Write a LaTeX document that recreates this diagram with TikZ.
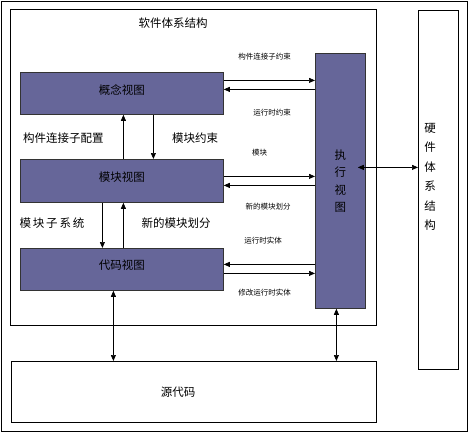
\documentclass[tikz,border=0pt]{standalone}
\usepackage{fontspec}
\newfontfamily\cjk{Noto Sans CJK SC}
\usepackage{tikz}
\usetikzlibrary{arrows.meta}
\definecolor{viewblue}{RGB}{102,102,153}

\begin{document}
\begin{tikzpicture}[
    x=1pt, y=-1pt,
    every node/.style={font=\cjk\fontsize{11.5}{14}\selectfont},
    box/.style={draw=black, line width=0.8pt, anchor=north west, inner sep=0pt},
    view/.style={box, draw=black!80, fill=viewblue, minimum width=203pt, minimum height=42pt},
    tag/.style={font=\cjk\fontsize{7.5}{9}\selectfont},
    line/.style={draw=black, line width=0.7pt, -{Triangle[length=6pt,width=5pt]}},
    dline/.style={line, {Triangle[length=6pt,width=5pt]}-{Triangle[length=6pt,width=5pt]}}
]
\useasboundingbox (0,0) rectangle (468,432);
\draw[line width=0.8pt] (1,1) rectangle (467,431);

% -------- Frames: software, hardware, source code --------
\node[box, minimum width=366pt, minimum height=316pt] (sw) at (10,9) {};
\node (swtitle) at (173,23) {软件体系结构};
\node[box, minimum width=40pt, minimum height=359pt] (hw) at (418,10) {};
\node[align=center, font=\cjk\fontsize{11.5}{19.5}\selectfont] (hwtitle) at (430,177) {硬\\件\\体\\系\\结\\构};
\node[box, minimum width=365pt, minimum height=61pt] (src) at (11,361) {};
\node (srctitle) at (178,392) {源代码};

% -------- Views --------
\node[view]                       (concept) at (20,72)  {\raisebox{8pt}{概念视图}};
\node[view, minimum height=43pt]  (module)  at (20,159) {\raisebox{8pt}{模块视图}};
\node[view]                       (code)    at (20,248) {\raisebox{9pt}{代码视图}};
\node[view, minimum width=50pt, minimum height=255pt, align=center,
      font=\cjk\fontsize{11.5}{17.5}\selectfont] (exec) at (315,53) {执\\行\\视\\图};

% -------- Vertical flow between views --------
\draw[line] ([xshift=1.5pt]module.north) -- ([xshift=1.5pt]concept.south);
\draw[line] ([xshift=31.5pt]concept.south) -- ([xshift=31.5pt]module.north);
\draw[line] ([xshift=-19.5pt]module.south) -- ([xshift=-19.5pt]code.north);
\draw[line] ([xshift=1.5pt]code.north) -- ([xshift=1.5pt]module.south);
\node (cfg)    at (63.5,138) {构件连接子配置};
\node (modcon) at (195,138)  {模块约束};
\node (subsys) at (52,223)   {模\hspace{1.8pt}块\hspace{1.8pt}子\hspace{1.8pt}系\hspace{1.8pt}统};
\node (newdiv) at (176,223)  {新的模块划分};

% -------- To source code and hardware --------
\coordinate (csrc) at ([xshift=-8.5pt]code.south);
\draw[dline] (csrc) -- (csrc |- src.north);
\coordinate (esrc) at ([xshift=-4pt]exec.south);
\draw[dline] (esrc) -- (esrc |- src.north);
\coordinate (ehw) at ([xshift=-8pt,yshift=13.5pt]exec.east);
\draw[dline] (ehw) -- (ehw -| hw.west);

% -------- Views <-> execution view --------
\coordinate (c1) at ([yshift=13pt]concept.east);
\coordinate (c2) at ([yshift=4pt]concept.east);
\coordinate (m1) at ([yshift=4.5pt]module.east);
\coordinate (m2) at ([yshift=-4.5pt]module.east);
\coordinate (k1) at ([yshift=5pt]code.east);
\coordinate (k2) at ([yshift=-4pt]code.east);
\draw[line] (c1) -- (c1 -| exec.west);
\draw[line] (c2 -| exec.west) -- (c2);
\draw[line] (m1) -- (m1 -| exec.west);
\draw[line] (m2 -| exec.west) -- (m2);
\draw[line] (k1 -| exec.west) -- (k1);
\draw[line] (k2) -- (k2 -| exec.west);

\node[tag] (tcon)  at (264.5,57) {构件连接子约束};
\node[tag] (trun)  at (272,113)  {运行时约束};
\node[tag] (tmod)  at (259.5,153) {模块};
\node[tag] (tnew)  at (268,207)  {新的模块划分};
\node[tag] (tent)  at (263,241)  {运行时实体};
\node[tag] (tedit) at (264.5,293) {修改运行时实体};

\end{tikzpicture}
\end{document}
